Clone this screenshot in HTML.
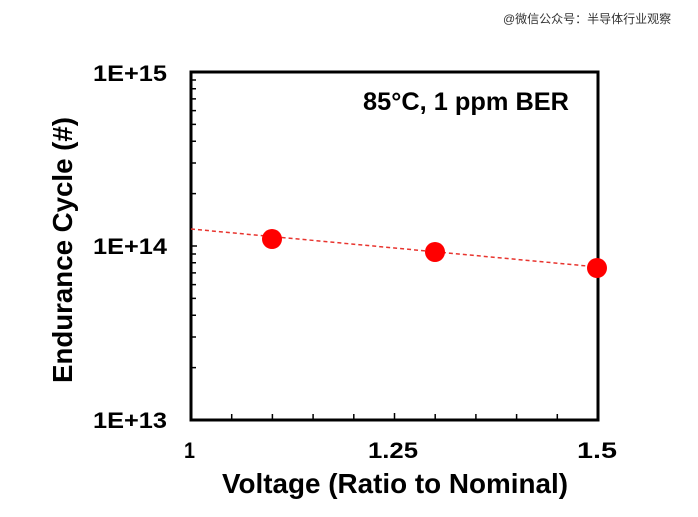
<!DOCTYPE html>
<html><head><meta charset="utf-8"><style>
html,body{margin:0;padding:0;background:#fff;}
svg{display:block;font-family:"Liberation Sans",Arial,sans-serif;font-weight:bold;}
</style></head><body>
<svg width="698" height="517" viewBox="0 0 698 517" xmlns="http://www.w3.org/2000/svg">
<text x="503" y="23" font-size="12" font-weight="normal" fill="#333" style="font-family:'Liberation Sans','Noto Sans CJK SC',sans-serif">@微信公众号：半导体行业观察</text>
<g stroke="#000" stroke-width="1.5">
<path d="M191 367.6h5M191 337h5M191 315.2h5M191 298.4h5M191 284.6h5M191 272.9h5M191 262.8h5M191 254h5M191 246h6
M191 193.6h5M191 163h5M191 141.2h5M191 124.4h5M191 110.6h5M191 98.9h5M191 88.8h5M191 80h5"/>
<path d="M231.7 420v-6M272.4 420v-6M313.1 420v-6M353.8 420v-6M394.5 420v-7M435.2 420v-6M475.9 420v-6M516.6 420v-6M557.3 420v-6"/>
</g>
<rect x="191" y="72" width="407" height="348" fill="none" stroke="#000" stroke-width="3"/>
<line x1="191" y1="229" x2="598" y2="267" stroke="#e8342e" stroke-width="1.5" stroke-dasharray="4,3"/>
<g fill="#f00">
<circle cx="272" cy="239" r="10"/>
<circle cx="435" cy="252" r="10"/>
<circle cx="597" cy="268" r="10"/>
</g>
<text x="363" y="110" font-size="25" textLength="206" lengthAdjust="spacingAndGlyphs">85°C, 1 ppm BER</text>
<g font-size="22">
<text x="93" y="81" textLength="74" lengthAdjust="spacingAndGlyphs">1E+15</text>
<text x="93" y="254" textLength="74" lengthAdjust="spacingAndGlyphs">1E+14</text>
<text x="93" y="428" textLength="74" lengthAdjust="spacingAndGlyphs">1E+13</text>
</g>
<g font-size="22">
<text x="184" y="458" textLength="11" lengthAdjust="spacingAndGlyphs">1</text>
<text x="368" y="458" textLength="50" lengthAdjust="spacingAndGlyphs">1.25</text>
<text x="577" y="458" textLength="40" lengthAdjust="spacingAndGlyphs">1.5</text>
</g>
<text x="222" y="493" font-size="28" textLength="346" lengthAdjust="spacingAndGlyphs">Voltage (Ratio to Nominal)</text>
<text transform="translate(72,383) rotate(-90)" font-size="28" textLength="266" lengthAdjust="spacingAndGlyphs">Endurance Cycle (#)</text>
</svg>
</body></html>
